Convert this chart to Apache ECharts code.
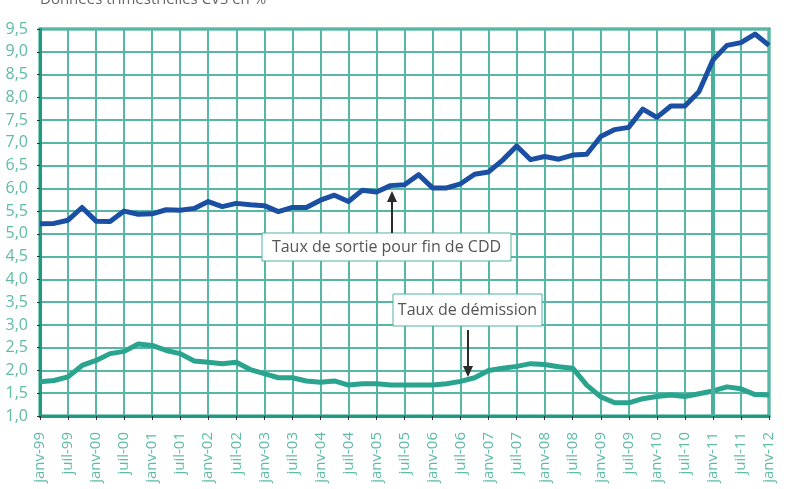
<!DOCTYPE html>
<html>
<head>
<meta charset="utf-8">
<script src="https://cdn.jsdelivr.net/npm/echarts@6/dist/echarts.min.js"></script>
<style>
  html, body { margin: 0; padding: 0; background: #fff; }
  #chart { width: 788px; height: 489px; }
</style>
</head>
<body>
<div id="chart"></div>
<script>
// Quarterly points, janv-99 .. janv-12
const years = ['99', '00', '01', '02', '03', '04', '05', '06', '07', '08', '09', '10', '11', '12'];
const months = ['janv', 'avr', 'juil', 'oct'];
const categories = [];
years.forEach((y, k) => {
  months.forEach(m => {
    if (k < years.length - 1 || m === 'janv') categories.push(m + '-' + y);
  });
});

// Taux de sortie pour fin de CDD (%)
const sortieCDD = [
  5.22, 5.23, 5.3, 5.58, 5.28, 5.27, 5.5, 5.43, 5.44, 5.53,
  5.52, 5.56, 5.71, 5.6, 5.67, 5.64, 5.62, 5.49, 5.58, 5.58,
  5.74, 5.85, 5.71, 5.96, 5.92, 6.06, 6.08, 6.3, 6.01, 6.01,
  6.1, 6.31, 6.36, 6.62, 6.93, 6.63, 6.7, 6.64, 6.73, 6.75,
  7.14, 7.29, 7.34, 7.74, 7.56, 7.81, 7.81, 8.12, 8.82, 9.14,
  9.2, 9.39, 9.14
];

// Taux de démission (%)
const demission = [
  1.75, 1.78, 1.86, 2.11, 2.22, 2.37, 2.42, 2.58, 2.55, 2.44,
  2.37, 2.21, 2.18, 2.15, 2.18, 2.02, 1.93, 1.84, 1.84, 1.77,
  1.74, 1.77, 1.68, 1.71, 1.71, 1.68, 1.68, 1.68, 1.68, 1.71,
  1.76, 1.84, 2.0, 2.05, 2.09, 2.15, 2.13, 2.08, 2.05, 1.68,
  1.42, 1.29, 1.29, 1.38, 1.43, 1.46, 1.43, 1.49, 1.55, 1.64,
  1.6, 1.47, 1.46
];

const separatorAt = 'janv-11';

const TEAL = '#1f9a83';
const GRID = '#55b7a4';
const LABEL = '#5dbba7';
const FONT = '"Open Sans", "Noto Sans", sans-serif';

const chart = echarts.init(document.getElementById('chart'), null, { renderer: 'canvas' });

const annBox = (x, y, w, h, text) => ({
  type: 'group',
  x, y, z: 100,
  children: [
    { type: 'rect', z: 100, shape: { x: 0, y: 0, width: w, height: h },
      style: { fill: '#fff', stroke: '#4fb3a0', lineWidth: 1 } },
    { type: 'text', z: 101, x: w / 2, y: h / 2,
      style: { text, fill: '#555', font: '16px ' + FONT, align: 'center', verticalAlign: 'middle' } }
  ]
});

const arrow = (x, y1, y2) => {
  const dir = y2 > y1 ? 1 : -1;
  return {
    type: 'group', z: 100,
    children: [
      { type: 'line', z: 100, shape: { x1: x, y1, x2: x, y2: y2 - dir * 8 },
        style: { stroke: '#2b2b2b', lineWidth: 2 } },
      { type: 'polygon', z: 100, shape: { points: [[x - 5, y2 - dir * 11], [x + 5, y2 - dir * 11], [x, y2]] },
        style: { fill: '#2b2b2b' } }
    ]
  };
};

chart.setOption({
  animation: false,
  grid: {
    left: 40, right: 19, top: 29, bottom: 73,
    show: true, borderColor: TEAL, borderWidth: 3, backgroundColor: 'transparent'
  },
  xAxis: {
    type: 'category',
    data: categories,
    boundaryGap: false,
    axisLine: { show: true, lineStyle: { color: TEAL, width: 3 } },
    axisTick: { show: true, interval: 1, length: 4, lineStyle: { color: '#333', width: 1 } },
    axisLabel: {
      interval: 1, rotate: 90, margin: 16,
      color: LABEL, fontSize: 15, fontFamily: FONT
    },
    splitLine: { show: true, interval: 1, lineStyle: { color: GRID, width: 2 } }
  },
  yAxis: {
    type: 'value',
    min: 1, max: 9.5, interval: 0.5,
    axisLine: { show: true, lineStyle: { color: TEAL, width: 3 } },
    axisTick: { show: true, length: 3, lineStyle: { color: '#333', width: 1 } },
    axisLabel: {
      margin: 12, color: LABEL, fontSize: 16, fontFamily: FONT,
      formatter: v => v.toFixed(1).replace('.', ',')
    },
    splitLine: { show: true, lineStyle: { color: GRID, width: 2 } }
  },
  series: [
    {
      name: 'Taux de sortie pour fin de CDD',
      type: 'line',
      data: sortieCDD,
      showSymbol: false,
      lineStyle: { color: '#1a4fa3', width: 5, join: 'round' },
      z: 5
    },
    {
      name: 'Taux de démission',
      type: 'line',
      data: demission,
      showSymbol: false,
      lineStyle: { color: '#2aa48e', width: 5, join: 'round' },
      z: 4,
      markLine: {
        silent: true,
        symbol: 'none',
        label: { show: false },
        lineStyle: { color: '#48b09c', width: 4, type: 'solid' },
        data: [{ xAxis: separatorAt }]
      }
    }
  ],
  graphic: [
    { type: 'text', x: 40, y: -8, z: 100,
      style: { text: 'Données trimestrielles CVS en %', fill: '#666', font: '15px ' + FONT } },
    annBox(262, 233, 249, 28, 'Taux de sortie pour fin de CDD'),
    arrow(392, 233, 191),
    annBox(393, 294, 149, 32, 'Taux de démission'),
    arrow(468, 330, 377)
  ]
});
</script>
</body>
</html>
